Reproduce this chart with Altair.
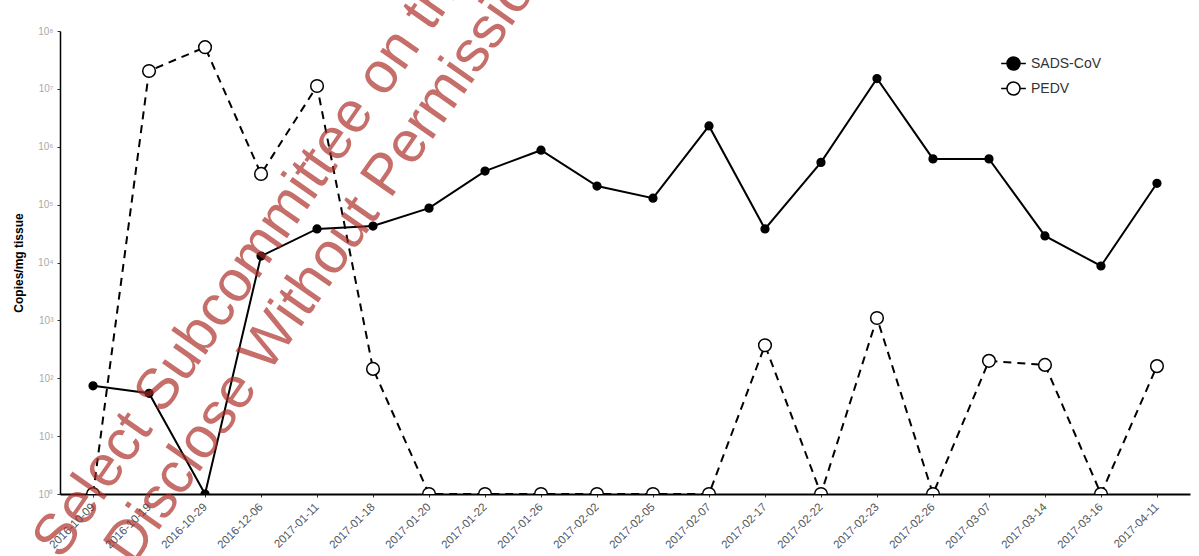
import altair as alt
import pandas as pd

dates = ["2016-10-09", "2016-10-19", "2016-10-29", "2016-12-06", "2017-01-11",
         "2017-01-18", "2017-01-20", "2017-01-22", "2017-01-26", "2017-02-02",
         "2017-02-05", "2017-02-07", "2017-02-17", "2017-02-22", "2017-02-23",
         "2017-02-26", "2017-03-07", "2017-03-14", "2017-03-16", "2017-04-11"]
sads = [74, 55, 1, 12900, 38000, 42700, 87000, 380000, 871000, 209000,
        129000, 2290000, 38000, 537000, 15100000, 617000, 617000, 28800, 8700, 234000]
pedv = [1, 20400000, 52500000, 339000, 11200000, 145, 1, 1, 1, 1,
        1, 1, 372, 1, 1100, 1, 200, 170, 1, 162]
series = ["SADS-CoV", "PEDV"]
ytick_values = [1, 10, 100, 1000, 10000, 100000, 1000000, 10000000, 100000000]
watermark = ["Select Subcommittee on the Coronavirus Crisis", "Disclose Without Permission"]

rows = []
for s, vals in zip(series, [sads, pedv]):
    for d, v in zip(dates, vals):
        rows.append({"date": d, "series": s, "value": v})
df = pd.DataFrame(rows)

x = alt.X("date:N", sort=dates, title=None,
          scale=alt.Scale(type="point", padding=0.59),
          axis=alt.Axis(labelAngle=-45, labelAlign="right", labelBaseline="middle",
                        labelFontSize=11.5, labelColor="#555555", labelPadding=8,
                        domainColor="black", domainWidth=2, tickColor="#333333",
                        tickSize=3, labelFont="Liberation Sans"))
y = alt.Y("value:Q", title="Copies/mg tissue",
          scale=alt.Scale(type="log", domain=[1, 100000000], nice=False),
          axis=alt.Axis(values=ytick_values, grid=False,
                        labelExpr="'10' + ['⁰','¹','²','³','⁴','⁵','⁶','⁷','⁸'][round(log(datum.value)/LN10)]",
                        labelFontSize=10, labelColor="#aaaaaa", labelPadding=4,
                        domainColor="black", domainWidth=1.5, tickColor="#333333",
                        tickSize=3, titleFontSize=12, titleFontWeight="bold",
                        titleColor="black", titlePadding=12, titleFont="Liberation Sans",
                        labelFont="Liberation Sans"))

base = alt.Chart(df)

line_sads = base.transform_filter(alt.datum.series == series[0]).mark_line(
    color="black", strokeWidth=2, clip=True).encode(x=x, y=y)
line_pedv = base.transform_filter(alt.datum.series == series[1]).mark_line(
    color="black", strokeWidth=2, strokeDash=[8, 6], clip=True).encode(x=x, y=y)

legend_path = "M-1.9,0H-1 M1,0H1.9 M-1,0A1,1 0 1,1 1,0A1,1 0 1,1 -1,0Z"
fill_enc = alt.Fill("series:N", scale=alt.Scale(domain=series, range=["black", "white"]),
                    legend=alt.Legend(title=None, orient="none", legendX=946, legendY=25,
                                      symbolType=legend_path, symbolSize=169,
                                      symbolStrokeColor="black", symbolStrokeWidth=1.5,
                                      labelFontSize=14, labelColor="#333333",
                                      labelFont="Liberation Sans", rowPadding=6,
                                      labelOffset=10, padding=0))

pts_sads = base.transform_filter(alt.datum.series == series[0]).mark_point(
    filled=True, stroke="black", strokeWidth=1.5, opacity=1, size=60, clip=True
).encode(x=x, y=y, fill=fill_enc)
pts_pedv = base.transform_filter(alt.datum.series == series[1]).mark_point(
    filled=True, stroke="black", strokeWidth=1.5, opacity=1, size=160, clip=True
).encode(x=x, y=y, fill=fill_enc)

wm_df = pd.DataFrame({"t": watermark})
wm1 = alt.Chart(wm_df).transform_filter(alt.datum.t == watermark[0]).mark_text(
    font="Liberation Sans", fontSize=58, angle=305, align="left", baseline="alphabetic",
    fill="#aa2a24", opacity=0.68
).encode(text="t:N", x=alt.value(1), y=alt.value(530))
wm2 = alt.Chart(wm_df).transform_filter(alt.datum.t == watermark[1]).mark_text(
    font="Liberation Sans", fontSize=58, angle=305, align="left", baseline="alphabetic",
    fill="#aa2a24", opacity=0.68
).encode(text="t:N", x=alt.value(73), y=alt.value(536))

chart = alt.layer(line_sads, line_pedv, pts_sads, pts_pedv, wm1, wm2).properties(
    width=1130, height=463,
    autosize=alt.AutoSizeParams(type="none"),
    padding={"left": 60, "top": 31, "right": 9, "bottom": 62},
    background="white",
).configure_view(stroke=None)

chart.save("out.html", embed_options={"renderer": "svg", "actions": False})
